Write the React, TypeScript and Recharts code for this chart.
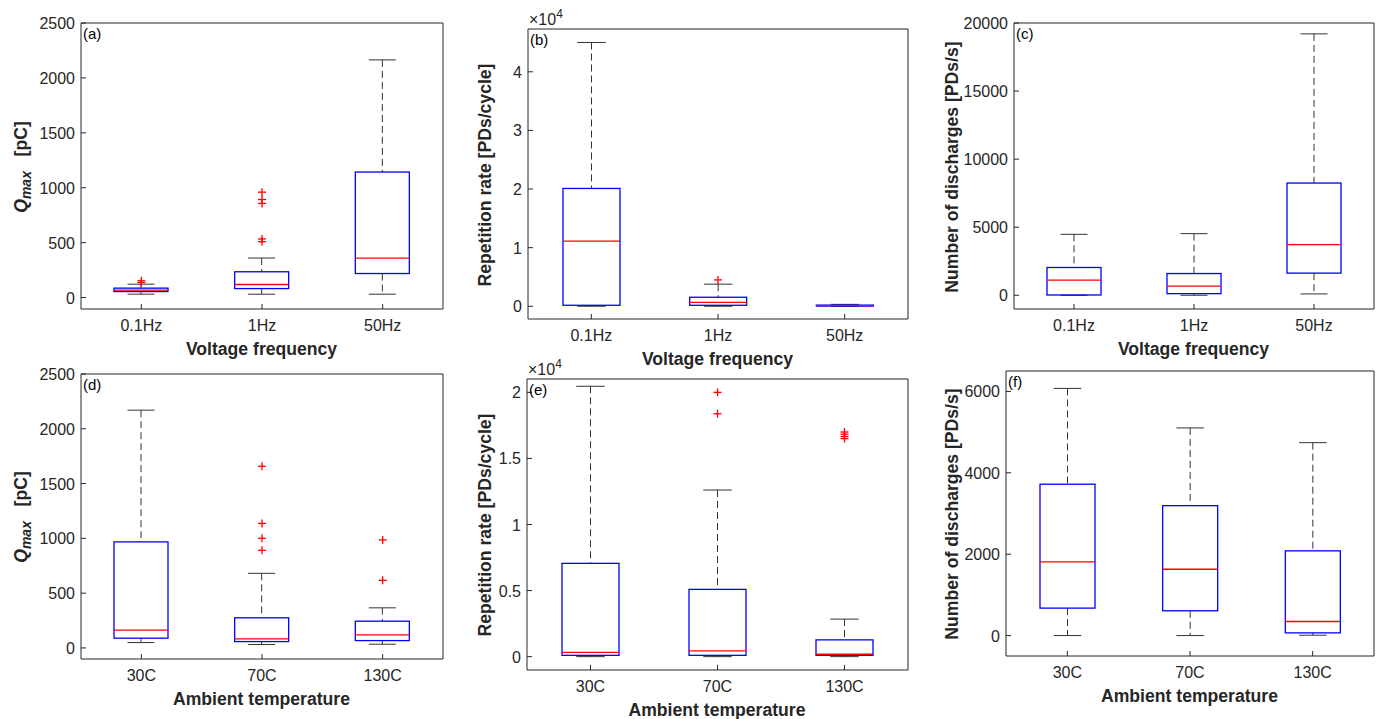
import React from "react";
import { ComposedChart, Bar, Scatter, XAxis, YAxis } from "recharts";

const freqCats = ["0.1Hz", "1Hz", "50Hz"];
const tempCats = ["30C", "70C", "130C"];

// one row per category: [lower whisker, q1, median, q3, upper whisker]
const qmaxFreq = [
  [31, 55, 68, 86, 122],
  [31, 82, 119, 235, 360],
  [31, 219, 360, 1143, 2164],
];
const qmaxFreqOut = [[137, 153], [509, 534, 857, 893, 960], []];

const repFreq = [
  [0, 170, 11100, 20100, 45000],
  [0, 170, 680, 1540, 3770],
  [0, 30, 120, 200, 330],
];
const repFreqOut = [[], [4500], []];

const countFreq = [
  [0, 20, 1108, 2039, 4476],
  [0, 118, 665, 1595, 4527],
  [96, 1625, 3715, 8242, 19202],
];
const countFreqOut = [[], [], []];

const qmaxTemp = [
  [49, 89, 162, 968, 2170],
  [31, 58, 82, 275, 681],
  [34, 67, 119, 244, 366],
];
const qmaxTempOut = [[], [891, 1001, 1136, 1658], [617, 986]];

const repTemp = [
  [0, 100, 330, 7060, 20460],
  [0, 100, 430, 5090, 12610],
  [0, 100, 180, 1270, 2840],
];
const repTempOut = [[], [18380, 20000], [16500, 16660, 16840, 17000]];

const countTemp = [
  [0, 675, 1811, 3720, 6074],
  [0, 609, 1630, 3193, 5103],
  [8, 66, 346, 2082, 4741],
];
const countTempOut = [[], [], []];

const qmaxTicks = [0, 500, 1000, 1500, 2000, 2500];
const repFreqTicks = [0, 10000, 20000, 30000, 40000];
const countFreqTicks = [0, 5000, 10000, 15000, 20000];
const repTempTicks = [0, 5000, 10000, 15000, 20000];
const countTempTicks = [0, 2000, 4000, 6000];

const AXIS = "#262626";
const FONT = '"Liberation Sans", Arial, Helvetica, sans-serif';
const BLUE = "#0000ff";
const RED = "#ff0000";
const WHISK = "#333333";

type Rect = { left: number; top: number; w: number; h: number };

function buildRows(cats: string[], stats: number[][], outs: number[][]) {
  return cats.map((cat, i) => {
    const [mn, q1, md, q3, mx] = stats[i];
    const row: any = { cat, lo: [mn, q1], box: [q1, q3], med: [q1, md], hi: [q3, mx] };
    outs[i].forEach((v, k) => {
      row["o" + k] = v;
    });
    return row;
  });
}

const BoxShape = (p: any) => (
  <rect x={p.x} y={p.y} width={p.width} height={p.height} fill="none" stroke={BLUE} strokeWidth={1.3} />
);

const MedShape = (p: any) => (
  <line x1={p.x} x2={p.x + p.width} y1={p.y} y2={p.y} stroke={RED} strokeWidth={1.3} />
);

const HiShape = (p: any) => {
  const cx = p.x + p.width / 2;
  const c = p.width / 4;
  return (
    <g>
      <line x1={cx} x2={cx} y1={p.y} y2={p.y + p.height} stroke={WHISK} strokeDasharray="7 4" />
      <line x1={cx - c} x2={cx + c} y1={p.y} y2={p.y} stroke={WHISK} />
    </g>
  );
};

const LoShape = (p: any) => {
  const cx = p.x + p.width / 2;
  const c = p.width / 4;
  const yb = p.y + p.height;
  return (
    <g>
      <line x1={cx} x2={cx} y1={p.y} y2={yb} stroke={WHISK} strokeDasharray="7 4" />
      <line x1={cx - c} x2={cx + c} y1={yb} y2={yb} stroke={WHISK} />
    </g>
  );
};

const Plus = (p: any) => {
  if (p.cy == null || isNaN(p.cy) || p.cx == null) return <g />;
  return (
    <g stroke={RED} strokeWidth={1.3}>
      <line x1={p.cx - 4} x2={p.cx + 4} y1={p.cy} y2={p.cy} />
      <line x1={p.cx} x2={p.cx} y1={p.cy - 4} y2={p.cy + 4} />
    </g>
  );
};

const XTick = (p: any) => (
  <g>
    <line x1={p.x} x2={p.x} y1={p.y - 6} y2={p.y - 11} stroke={AXIS} />
    <text x={p.x} y={p.y + 16} textAnchor="middle" fontSize={16} fill={AXIS} fontFamily={FONT}>
      {p.payload.value}
    </text>
  </g>
);

const makeYTick = (exp: boolean) => (p: any) => (
  <g>
    <line x1={p.x + 6} x2={p.x + 11} y1={p.y} y2={p.y} stroke={AXIS} />
    <text x={p.x} y={p.y + 6} textAnchor="end" fontSize={16} fill={AXIS} fontFamily={FONT}>
      {exp ? String(p.payload.value / 10000) : String(p.payload.value)}
    </text>
  </g>
);

type PanelProps = {
  letter: string;
  cats: string[];
  stats: number[][];
  outs: number[][];
  domain: [number, number];
  ticks: number[];
  exp?: boolean;
  rect: Rect;
  yTitle: React.ReactNode;
  yOff: number;
  xTitle: string;
};

function Panel({ letter, cats, stats, outs, domain, ticks, exp = false, rect, yTitle, yOff, xTitle }: PanelProps) {
  const YW = 70;
  const TOP = 20;
  const RIGHT = 8;
  const XH = 30;
  const data = buildRows(cats, stats, outs);
  const nOut = Math.max(...outs.map((o) => o.length));
  const outKeys = Array.from({ length: nOut }, (_, k) => "o" + k);
  const bs = Math.round((rect.w / cats.length) * 0.45);

  return (
    <>
      <div style={{ position: "absolute", left: rect.left - YW, top: rect.top - TOP }}>
        <ComposedChart
          width={YW + rect.w + RIGHT}
          height={TOP + rect.h + XH}
          data={data}
          margin={{ top: TOP - 1, right: RIGHT - 1, bottom: 0, left: 0 }}
          barGap={-bs}
        >
          <XAxis
            dataKey="cat"
            height={XH}
            tickSize={0}
            tickMargin={6}
            tickLine={false}
            axisLine={{ stroke: AXIS }}
            tick={XTick}
            interval={0}
          />
          <XAxis
            xAxisId="t"
            dataKey="cat"
            orientation="top"
            mirror
            height={1}
            tick={false}
            tickSize={5}
            tickLine={{ stroke: AXIS }}
            axisLine={{ stroke: AXIS }}
            interval={0}
          />
          <YAxis
            type="number"
            domain={domain}
            ticks={ticks}
            width={YW}
            tickSize={0}
            tickMargin={6}
            tickLine={false}
            axisLine={{ stroke: AXIS }}
            tick={makeYTick(exp)}
            interval={0}
          />
          <YAxis
            yAxisId="r"
            type="number"
            orientation="right"
            mirror
            width={1}
            domain={domain}
            ticks={ticks}
            tick={false}
            tickSize={5}
            tickLine={{ stroke: AXIS }}
            axisLine={{ stroke: AXIS }}
            interval={0}
          />
          <Bar dataKey="lo" barSize={bs} shape={LoShape} isAnimationActive={false} />
          <Bar dataKey="hi" barSize={bs} shape={HiShape} isAnimationActive={false} />
          <Bar dataKey="box" barSize={bs} shape={BoxShape} isAnimationActive={false} />
          <Bar dataKey="med" barSize={bs} shape={MedShape} isAnimationActive={false} />
          {outKeys.map((k) => (
            <Scatter key={k} dataKey={k} shape={Plus} isAnimationActive={false} />
          ))}
        </ComposedChart>
      </div>
      <div
        style={{
          position: "absolute",
          left: rect.left + 2,
          top: rect.top + 1,
          fontSize: 15,
          lineHeight: "18px",
          color: "#000",
        }}
      >
        {letter}
      </div>
      {exp && (
        <div
          style={{
            position: "absolute",
            left: rect.left + 1,
            top: rect.top - 20,
            fontSize: 16,
            lineHeight: "20px",
            color: AXIS,
            whiteSpace: "nowrap",
          }}
        >
          ×10<span style={{ fontSize: 12, position: "relative", top: -7 }}>4</span>
        </div>
      )}
      <div
        style={{
          position: "absolute",
          left: rect.left - yOff,
          top: rect.top + rect.h / 2,
          transform: "translate(-50%, -50%) rotate(-90deg)",
          fontSize: 17.6,
          fontWeight: "bold",
          lineHeight: "20px",
          whiteSpace: "nowrap",
          color: AXIS,
        }}
      >
        {yTitle}
      </div>
      <div
        style={{
          position: "absolute",
          left: rect.left + rect.w / 2,
          top: rect.top + rect.h + 40,
          transform: "translate(-50%, -50%)",
          fontSize: 17.6,
          fontWeight: "bold",
          lineHeight: "20px",
          whiteSpace: "nowrap",
          color: AXIS,
        }}
      >
        {xTitle}
      </div>
    </>
  );
}

const QmaxTitle = (
  <span>
    <span style={{ fontStyle: "italic" }}>Q</span>
    <span style={{ fontStyle: "italic", fontSize: 14, position: "relative", top: 4 }}>max</span>
    {"\u00a0\u00a0\u00a0[pC]"}
  </span>
);

export default function App() {
  return (
    <div
      style={{
        position: "absolute",
        left: 0,
        top: 0,
        width: 1379,
        height: 719,
        background: "#fff",
        fontFamily: FONT,
        overflow: "hidden",
      }}
    >
      <Panel
        letter="(a)"
        cats={freqCats}
        stats={qmaxFreq}
        outs={qmaxFreqOut}
        domain={[-104, 2500]}
        ticks={qmaxTicks}
        rect={{ left: 81, top: 24, w: 361, h: 285 }}
        yTitle={QmaxTitle}
        yOff={60}
        xTitle="Voltage frequency"
      />
      <Panel
        letter="(b)"
        cats={freqCats}
        stats={repFreq}
        outs={repFreqOut}
        domain={[-2170, 47300]}
        ticks={repFreqTicks}
        exp
        rect={{ left: 528, top: 30, w: 379, h: 289 }}
        yTitle="Repetition rate [PDs/cycle]"
        yOff={43}
        xTitle="Voltage frequency"
      />
      <Panel
        letter="(c)"
        cats={freqCats}
        stats={countFreq}
        outs={countFreqOut}
        domain={[-1010, 20000]}
        ticks={countFreqTicks}
        rect={{ left: 1014, top: 24, w: 359, h: 285 }}
        yTitle="Number of discharges [PDs/s]"
        yOff={62}
        xTitle="Voltage frequency"
      />
      <Panel
        letter="(d)"
        cats={tempCats}
        stats={qmaxTemp}
        outs={qmaxTempOut}
        domain={[-101, 2500]}
        ticks={qmaxTicks}
        rect={{ left: 81, top: 375, w: 361, h: 284 }}
        yTitle={QmaxTitle}
        yOff={60}
        xTitle="Ambient temperature"
      />
      <Panel
        letter="(e)"
        cats={tempCats}
        stats={repTemp}
        outs={repTempOut}
        domain={[-1010, 21010]}
        ticks={repTempTicks}
        exp
        rect={{ left: 527, top: 380, w: 380, h: 290 }}
        yTitle="Repetition rate [PDs/cycle]"
        yOff={42}
        xTitle="Ambient temperature"
      />
      <Panel
        letter="(f)"
        cats={tempCats}
        stats={countTemp}
        outs={countTempOut}
        domain={[-502, 6502]}
        ticks={countTempTicks}
        rect={{ left: 1006, top: 372, w: 367, h: 284 }}
        yTitle="Number of discharges [PDs/s]"
        yOff={54}
        xTitle="Ambient temperature"
      />
    </div>
  );
}
